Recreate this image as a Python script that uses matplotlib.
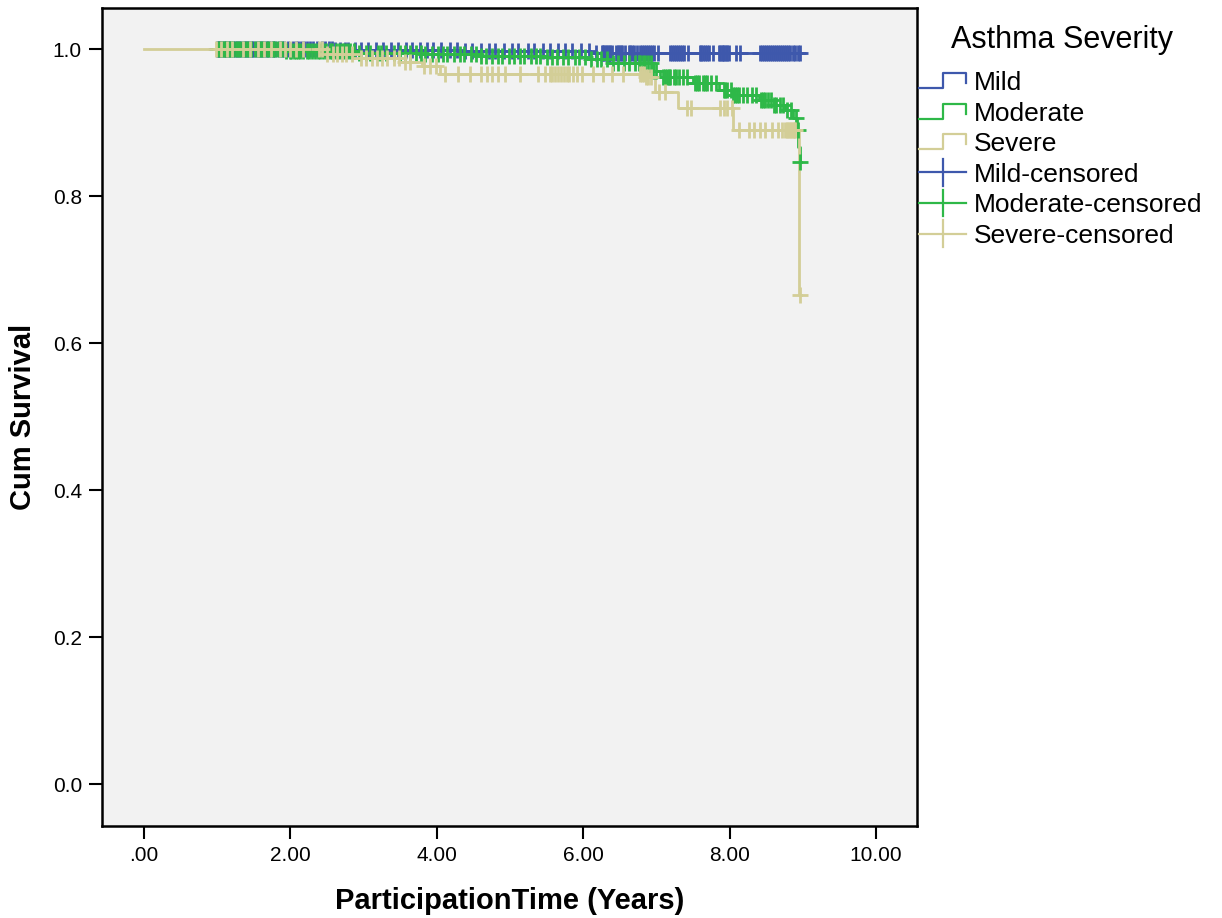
import numpy as np
import matplotlib
matplotlib.use("Agg")
import matplotlib.pyplot as plt
from matplotlib.lines import Line2D
from matplotlib.legend_handler import HandlerBase

plt.rcParams["font.family"] = ["Liberation Sans", "DejaVu Sans"]

# step curves: (time, survival) at each event
mild_t = [0.97, 2.6, 4.3, 6.1, 9.0]
mild_s = [1.0, 0.998, 0.997, 0.994, 0.994]

moderate_t = [0.97, 1.9, 2.9, 3.8, 4.6, 5.5, 6.05, 6.35, 6.95, 7.05, 7.5, 7.85, 8.05, 8.4, 8.6, 8.75, 8.87, 8.92, 8.94, 8.96, 8.98]
moderate_s = [1.0, 0.997, 0.995, 0.993, 0.991, 0.989, 0.986, 0.981, 0.97, 0.962, 0.954, 0.944, 0.937, 0.93, 0.924, 0.917, 0.906, 0.89, 0.867, 0.846, 0.846]

severe_t = [0.0, 2.45, 2.95, 3.5, 3.8, 4.05, 6.85, 6.98, 7.3, 8.05, 8.95, 8.97]
severe_s = [1.0, 0.993, 0.988, 0.983, 0.977, 0.966, 0.962, 0.942, 0.92, 0.89, 0.665, 0.665]

# censored times
mild_cens = [1.0, 1.02, 1.03, 1.05, 1.07, 1.1, 1.12, 1.15, 1.18, 1.21, 1.24, 1.27, 1.3, 1.33, 1.36, 1.38, 1.41, 1.44,
             1.47, 1.49, 1.53, 1.56, 1.58, 1.61, 1.64, 1.66, 1.7, 1.73, 1.76, 1.79, 1.84, 1.88, 1.91, 1.97,
             2.04, 2.08, 2.11, 2.15, 2.19, 2.23, 2.27, 2.31, 2.36, 2.43, 2.47, 2.52, 2.57, 2.61, 2.68, 2.74, 2.79,
             2.88, 2.97, 3.06, 3.17, 3.26, 3.38, 3.47, 3.58, 3.66, 3.77, 3.86, 3.95, 4.06, 4.18, 4.27, 4.39, 4.48,
             4.6, 4.71, 4.79, 4.92, 5.03, 5.11, 5.24, 5.33, 5.45, 5.54, 5.66, 5.75, 5.84, 5.97, 6.08, 6.17,
             6.25, 6.27, 6.29, 6.31, 6.33, 6.35, 6.37, 6.39, 6.45, 6.47, 6.49, 6.51, 6.53, 6.57, 6.62, 6.64, 6.67,
             6.69, 6.73, 6.78, 6.8, 6.83, 6.86, 6.89, 6.91, 6.94, 6.97, 7.02, 7.19, 7.21, 7.24, 7.27, 7.3, 7.32,
             7.35, 7.38, 7.43, 7.6, 7.61, 7.64, 7.66, 7.69, 7.72, 7.77, 7.86, 7.87, 7.89, 7.91, 7.93, 7.95, 7.97,
             7.99, 8.09, 8.14, 8.42, 8.44, 8.47, 8.5, 8.52, 8.55, 8.58, 8.61, 8.63, 8.66, 8.69, 8.72, 8.74, 8.77,
             8.8, 8.83, 8.86, 8.9, 8.93, 8.96]
moderate_cens = [1.01, 1.04, 1.06, 1.09, 1.11, 1.14, 1.16, 1.19, 1.22, 1.26, 1.28, 1.31, 1.35, 1.39, 1.42, 1.46, 1.52,
                 1.55, 1.57, 1.6, 1.63, 1.68, 1.71, 1.76, 1.78, 1.82, 1.86, 1.89, 1.94, 1.99,
                 2.01, 2.05, 2.07, 2.1, 2.13, 2.17, 2.22, 2.25, 2.29, 2.34, 2.38, 2.41, 2.45, 2.49, 2.54, 2.57, 2.62,
                 2.66, 2.7, 2.73, 2.77, 2.81, 2.87, 2.94, 3.03, 3.09, 3.19, 3.24, 3.31, 3.41, 3.49, 3.56, 3.63, 3.71,
                 3.79, 3.84, 3.93, 4.01, 4.09, 4.14, 4.23, 4.31, 4.37, 4.46, 4.53, 4.61, 4.67, 4.76, 4.83, 4.89, 4.99,
                 5.06, 5.13, 5.19, 5.29, 5.36, 5.41, 5.51, 5.57, 5.64, 5.73, 5.79, 5.89, 5.94, 6.02, 6.11, 6.19,
                 6.24, 6.33, 6.41, 6.47, 6.56, 6.63, 6.71, 6.76, 6.78, 6.82, 6.85, 6.88, 6.93, 6.96,
                 7.0, 7.09, 7.12, 7.14, 7.17, 7.19, 7.24, 7.27, 7.31, 7.37, 7.42, 7.53, 7.55, 7.58, 7.63, 7.66, 7.69,
                 7.74, 7.81, 7.92, 7.94, 7.97, 8.02, 8.05, 8.07, 8.1, 8.13, 8.18, 8.24, 8.3, 8.36, 8.43, 8.45, 8.48,
                 8.53, 8.57, 8.6, 8.63, 8.69, 8.73, 8.79, 8.84, 8.91, 8.93, 8.96]
severe_cens = [0.98, 1.05, 1.13, 1.2, 1.35, 1.45, 1.56, 1.64, 1.73, 1.86, 1.93, 2.0, 2.08, 2.17, 2.39, 2.43, 2.5, 2.58,
               2.63, 2.7, 2.76, 2.84, 2.96, 3.03, 3.12, 3.18, 3.25, 3.32, 3.42, 3.48, 3.56, 3.64, 3.83, 3.9, 3.99, 4.11,
               4.29, 4.45, 4.61, 4.68, 4.75, 4.84, 4.93, 5.14, 5.38, 5.48, 5.55, 5.58, 5.62, 5.66, 5.7, 5.74, 5.78,
               5.81, 5.86, 5.92, 5.98, 6.13, 6.27, 6.4, 6.54, 6.78, 6.8, 6.83, 6.86, 6.88, 6.93, 7.03, 7.12, 7.42,
               7.47, 7.87, 7.92, 7.97, 8.13, 8.03, 8.27, 8.34, 8.41, 8.48, 8.58, 8.66, 8.72, 8.75, 8.78, 8.8, 8.82,
               8.84, 8.86, 8.88, 8.9, 8.96]

groups = ["Mild", "Moderate", "Severe"]
colors = ["#3E58AC", "#2EB848", "#D3CE97"]
curves = [(mild_t, mild_s, mild_cens), (moderate_t, moderate_s, moderate_cens), (severe_t, severe_s, severe_cens)]


class StepHandler(HandlerBase):
    def create_artists(self, legend, orig_handle, xdescent, ydescent, width, height, fontsize, trans):
        x0, y0 = -xdescent, -ydescent
        xs = [x0, x0 + 0.5 * width, x0 + 0.5 * width, x0 + width, x0 + width]
        ys = [y0 + 0.05 * height, y0 + 0.05 * height, y0 + 0.95 * height, y0 + 0.95 * height, y0 + 0.35 * height]
        return [Line2D(xs, ys, color=orig_handle.get_color(), lw=1.6, transform=trans)]


class CrossHandler(HandlerBase):
    def create_artists(self, legend, orig_handle, xdescent, ydescent, width, height, fontsize, trans):
        x0, y0 = -xdescent, -ydescent
        c = orig_handle.get_color()
        h = Line2D([x0, x0 + width], [y0 + 0.5 * height] * 2, color=c, lw=1.6, transform=trans)
        v = Line2D([x0 + 0.5 * width] * 2, [y0 - 0.3 * height, y0 + 1.3 * height], color=c, lw=1.6, transform=trans)
        return [h, v]


fig = plt.figure(figsize=(12.22, 9.18), dpi=100, facecolor="white")
ax = fig.add_axes([0.0835, 0.1002, 0.6669, 0.8911], facecolor="#F2F2F2")

for (t, s, cens), col in zip(curves, colors):
    t = np.array(t)
    s = np.array(s)
    ax.step(t, s, where="post", color=col, lw=2, zorder=2)
    c = np.array(cens)
    idx = np.searchsorted(t, c, side="right") - 1
    ax.plot(c, s[np.clip(idx, 0, len(s) - 1)], ls="none", marker="+", ms=12,
            mew=2, color=col, zorder=3)

ax.set_xlim(-0.574, 10.56)
ax.set_ylim(-0.057, 1.0558)
ax.set_xticks([0, 2, 4, 6, 8, 10])
ax.set_xticklabels([".00", "2.00", "4.00", "6.00", "8.00", "10.00"])
ax.set_yticks([0.0, 0.2, 0.4, 0.6, 0.8, 1.0])
ax.set_yticklabels(["0.0", "0.2", "0.4", "0.6", "0.8", "1.0"])
ax.tick_params(length=9.5, width=1.5, labelsize=15, pad=5)
for sp in ax.spines.values():
    sp.set_linewidth(1.8)

ax.set_xlabel("ParticipationTime (Years)", fontsize=21, fontweight="bold", labelpad=16)
ax.set_ylabel("Cum Survival", fontsize=21, fontweight="bold", labelpad=11)

labels = groups + [g + "-censored" for g in groups]
handles = [Line2D([], [], color=c) for c in colors] + [Line2D([], [], color=c) for c in colors]
hmap = {h: (StepHandler() if i < 3 else CrossHandler()) for i, h in enumerate(handles)}
fig.text(1062 / 1222, 1 - 40 / 918, "Asthma Severity", fontsize=22, ha="center", va="center")
leg = fig.legend(handles, labels, handler_map=hmap, loc="upper left",
                 bbox_to_anchor=(0.752, 1 - 71 / 918), frameon=False, fontsize=19,
                 handlelength=1.8, handleheight=0.6, handletextpad=0.28,
                 labelspacing=0.25, borderpad=0, borderaxespad=0)

fig.savefig("out.png", dpi=100, facecolor=fig.get_facecolor())
